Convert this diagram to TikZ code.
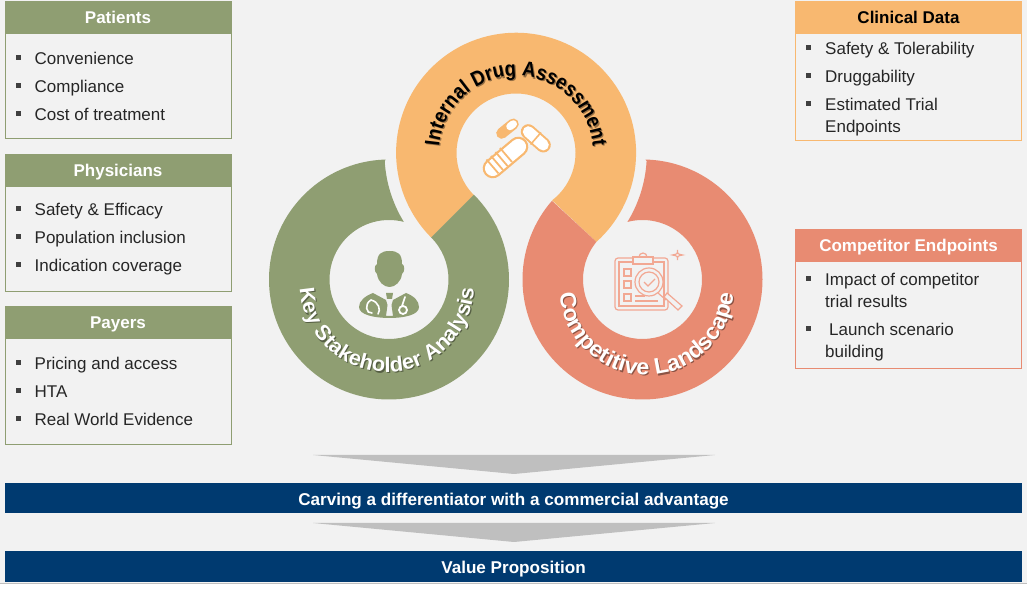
\documentclass[tikz,border=0pt]{standalone}
\usepackage{fontspec}
\setmainfont{Liberation Sans}
\newfontfamily\topringface[FakeStretch=0.88]{Liberation Sans}
\newfontfamily\lowringface[FakeStretch=1.04]{Liberation Sans}
\usetikzlibrary{calc,decorations.text}

\definecolor{pagegray}{HTML}{F2F2F2}
\definecolor{sagegreen}{HTML}{8F9E72}
\definecolor{sandorange}{HTML}{F8B870}
\definecolor{salmonred}{HTML}{E88B72}
\definecolor{salmonline}{HTML}{F2A893}
\definecolor{navybar}{HTML}{003A70}
\definecolor{arrowgray}{HTML}{BFBFBF}
\definecolor{bodytext}{HTML}{262626}

\tikzset{
    headbox/.style={minimum width=226, minimum height=32, inner sep=0, draw=#1, fill=#1,
        text height=15.5, text depth=3, font=\fontsize{17}{20}\selectfont\bfseries},
    bodybox/.style={minimum width=226, inner sep=0, draw=#1, line width=0.8pt},
    itemtext/.style={anchor=west, inner sep=0, text height=15.5, text depth=3, text=bodytext,
        font=\fontsize{17}{20}\selectfont},
    itemmark/.style={fill=black!75, minimum size=5, inner sep=0},
    navystrip/.style={minimum width=1017, minimum height=30, inner sep=0, fill=navybar, text=white,
        text height=17.5, text depth=3, font=\fontsize{17.1}{20}\selectfont\bfseries},
    downtri/.style={fill=arrowgray},
}
\newcommand{\topfont}{\fontsize{21}{24}\topringface\bfseries}
\newcommand{\keyfont}{\fontsize{21}{26}\lowringface\bfseries}
\newcommand{\rivalfont}{\fontsize{22.5}{26}\lowringface\bfseries}

\begin{document}
\begin{tikzpicture}[x=1pt,y=1pt]
        \useasboundingbox (0, 0) rectangle (1027, 591);
        \fill[pagegray] (0, 8) rectangle (1027, 591);
        \draw[line width=0.8pt,black!25] (0, 8) -- (1027, 8);

        \coordinate (topc) at (516, 438);
        \coordinate (leftc) at (389, 311.5);
        \coordinate (rightc) at (642.5, 311.5);
        \coordinate (keytext) at (387, 306);
        \coordinate (rivaltext) at (646.5, 303);

        % three rings
        \fill[sandorange] (topc) ++(225:59.5) arc[start angle=225, end angle=-52.6, radius=59.5]
            -- ($(rightc)+(140.8:59.5)$) arc[start angle=-48, end angle=225, radius=120] -- cycle;
        \fill[sagegreen] (leftc) ++(91.6:120) arc[start angle=91.6, end angle=405, radius=120]
            -- ($(leftc)+(45:59.5)$) arc[start angle=45, end angle=-284.4, radius=59.5]
            arc[start angle=211.5, end angle=183.4, radius=131] -- cycle;
        \fill[salmonred] (rightc) ++(88.6:120) arc[start angle=88.6, end angle=-221, radius=120]
            -- ($(rightc)+(140.8:59.5)$) arc[start angle=140.8, end angle=464.7, radius=59.5]
            arc[start angle=-31.6, end angle=-3.4, radius=131] -- cycle;

        % ring labels
        \path[decorate, decoration={text along path, text align=center,
            text={|\topfont\color{sandorange!60!black}|Internal Drug Assessment}}]
            ($(topc)+(1.2,-1.2)$) ++(178:77) arc[start angle=178, end angle=2, radius=77];
        \path[decorate, decoration={text along path, text align=center,
            text={|\topfont\color{black}|Internal Drug Assessment}}]
            (topc) ++(178:77) arc[start angle=178, end angle=2, radius=77];
        \path[decorate, decoration={text along path, text align=center,
            text={|\keyfont\color{sagegreen!60!black}|Key Stakeholder Analysis}}]
            ($(keytext)+(1.2,-1.2)$) ++(180:87) arc[start angle=180, end angle=360, radius=87];
        \path[decorate, decoration={text along path, text align=center,
            text={|\keyfont\color{white}|Key Stakeholder Analysis}}]
            (keytext) ++(180:87) arc[start angle=180, end angle=360, radius=87];
        \path[decorate, decoration={text along path, text align=center,
            text={|\rivalfont\color{salmonred!60!black}|Competitive Landscape}}]
            ($(rivaltext)+(1.2,-1.2)$) ++(180:87) arc[start angle=180, end angle=360, radius=87];
        \path[decorate, decoration={text along path, text align=center,
            text={|\rivalfont\color{white}|Competitive Landscape}}]
            (rivaltext) ++(180:87) arc[start angle=180, end angle=360, radius=87];

        % pills
        \draw[line width=20pt,line cap=round,sandorange] (492.7, 422.7)--(518.3, 444.3);
        \draw[line width=15.5pt,line cap=round,white] (492.7, 422.7)--(518.3, 444.3);
        \draw[line width=1.8pt,sandorange] (486.5, 431.5)--(498.5, 417.5);
        \draw[line width=1.8pt,sandorange] (491, 435)--(503, 421);
        \draw[line width=1.8pt,sandorange] (495.5, 439)--(507.5, 425);
        \draw[line width=1.8pt,sandorange] (500, 443)--(512, 429);
        \draw[line width=15pt,line cap=round,sandorange] (528.3, 459.3)--(543.3, 446);
        \draw[line width=11pt,line cap=round,white] (528.3, 459.3)--(543.3, 446);
        \draw[line width=1.6pt,sandorange] (530.5, 446.5)--(541, 458.5);
        \draw[line width=11pt,line cap=round,sandorange] (501.7, 457.7)--(507.5, 462.4);
        \draw[line width=11pt,line cap=round,sandorange] (507.5, 462.4)--(513.3, 467);
        \draw[line width=7.5pt,line cap=round,white] (510, 464.5)--(513.3, 467);

        % doctor
        \fill[sagegreen] (389.5, 340) .. controls (381, 340) and (377, 337) .. (377, 327)
            .. controls (374, 326) and (374, 319) .. (377, 317)
            .. controls (378, 309) and (384, 304) .. (389.5, 304)
            .. controls (395, 304) and (401, 309) .. (402, 317)
            .. controls (405, 319) and (405, 326) .. (402, 327)
            .. controls (402, 337) and (398, 340) .. (389.5, 340) -- cycle;
        \fill[sagegreen] (373, 298) -- (386, 291) -- (387.5, 286) -- (386, 275) -- (393, 275)
            -- (391.5, 286) -- (393, 291) -- (406, 298)
            .. controls (414, 295) and (419, 290) .. (419, 284)
            .. controls (419, 276) and (404, 273) .. (389.5, 273)
            .. controls (375, 273) and (359, 276) .. (359, 284)
            .. controls (359, 290) and (365, 295) .. (373, 298) -- cycle;
        \fill[sagegreen] (386, 298) -- (393, 298) -- (392, 292) -- (387, 292) -- cycle;
        \draw[line width=1.6pt,white,line cap=round] (371, 291) .. controls (364, 287) and (366, 277) .. (372, 278);
        \draw[line width=1.6pt,white,line cap=round] (371, 291) .. controls (379, 289) and (381, 281) .. (378, 277);
        \draw[line width=1.6pt,white,line cap=round] (405, 294) -- (402, 285);
        \draw[line width=1.8pt,white] (403, 281) circle (4);

        % clipboard
        \begin{scope}[salmonline, line width=1.2pt]
            \draw[rounded corners=3pt] (615, 333) rectangle (668, 281);
            \draw (619, 329) rectangle (664, 285);
            \draw[fill=pagegray] (633, 334) rectangle (653, 327);
            \draw (639, 334) arc[start angle=180, end angle=0, radius=4];
            \draw (624, 322) rectangle (631, 315);
            \draw (624, 310) rectangle (631, 303);
            \draw (624, 297) rectangle (631, 290);
            \draw (635, 295)--(645, 295);
            \draw (635, 290)--(658, 290);
            \draw (658, 298)--(666, 291);
            \draw[fill=pagegray] (664, 294)--(667, 298)--(682, 285)--(678, 281)--cycle;
            \draw[fill=pagegray] (649, 309) circle (14);
            \draw (649, 309) circle (10);
            \draw (644, 309)--(648, 305)--(655, 312);
            \draw (677.5, 341) .. controls (677.5, 337) .. (682.5, 336) .. controls (677.5, 335) .. (677.5, 331)
                .. controls (677.5, 335) .. (672.5, 336) .. controls (677.5, 337) .. (677.5, 341) -- cycle;
        \end{scope}

        % left boxes
        \node[bodybox=sagegreen, minimum height=105] (patientsbody) at (118, 505.5) {};
        \node[headbox=sagegreen, text=white] (patients) at (118, 574) {Patients};
        \node[itemmark] (patientsmarka) at (18, 533) {};
        \node[itemtext] (patientsa) at (34.5, 533) {Convenience};
        \node[itemmark] (patientsmarkb) at (18, 505) {};
        \node[itemtext] (patientsb) at (34.5, 505) {Compliance};
        \node[itemmark] (patientsmarkc) at (18, 477) {};
        \node[itemtext] (patientsc) at (34.5, 477) {Cost of treatment};

        \node[bodybox=sagegreen, minimum height=105] (physiciansbody) at (118, 352.5) {};
        \node[headbox=sagegreen, text=white] (physicians) at (118, 421) {Physicians};
        \node[itemmark] (physiciansmarka) at (18, 382) {};
        \node[itemtext] (physiciansa) at (34.5, 382) {Safety \& Efficacy};
        \node[itemmark] (physiciansmarkb) at (18, 354) {};
        \node[itemtext] (physiciansb) at (34.5, 354) {Population inclusion};
        \node[itemmark] (physiciansmarkc) at (18, 326) {};
        \node[itemtext] (physiciansc) at (34.5, 326) {Indication coverage};

        \node[bodybox=sagegreen, minimum height=107] (payersbody) at (118, 200.5) {};
        \node[headbox=sagegreen, text=white] (payers) at (118, 268.5) {Payers};
        \node[itemmark] (payersmarka) at (18, 228) {};
        \node[itemtext] (payersa) at (34.5, 228) {Pricing and access};
        \node[itemmark] (payersmarkb) at (18, 200) {};
        \node[itemtext] (payersb) at (34.5, 200) {HTA};
        \node[itemmark] (payersmarkc) at (18, 172) {};
        \node[itemtext] (payersc) at (34.5, 172) {Real World Evidence};

        % right boxes
        \node[bodybox=sandorange, minimum height=107] (clinicalbody) at (908.5, 504.5) {};
        \node[headbox=sandorange, text=black] (clinical) at (908.5, 574) {Clinical Data};
        \node[itemmark] (clinicalmarka) at (808, 543) {};
        \node[itemtext] (clinicala) at (825, 543) {Safety \& Tolerability};
        \node[itemmark] (clinicalmarkb) at (808, 515) {};
        \node[itemtext] (clinicalb) at (825, 515) {Druggability};
        \node[itemmark] (clinicalmarkc) at (808, 487) {};
        \node[itemtext] (clinicalc) at (825, 487) {Estimated Trial};
        \node[itemtext] (clinicald) at (825, 465) {Endpoints};

        \node[bodybox=salmonred, minimum height=107] (rivalbody) at (908.5, 276.5) {};
        \node[headbox=salmonred, text=white] (rival) at (908.5, 346) {Competitor Endpoints};
        \node[itemmark] (rivalmarka) at (808, 312) {};
        \node[itemtext] (rivala) at (825, 312) {Impact of competitor};
        \node[itemtext] (rivalb) at (825, 290) {trial results};
        \node[itemmark] (rivalmarkc) at (808, 262) {};
        \node[itemtext] (rivalc) at (829, 262) {Launch scenario};
        \node[itemtext] (rivald) at (825, 240) {building};

        % bottom
        \fill[downtri] (313, 136)--(715, 136)--(514, 117)--cycle;
        \node[navystrip] (carving) at (513.5, 93) {Carving a differentiator with a commercial advantage};
        \fill[downtri] (313, 68)--(715, 68)--(514, 49)--cycle;
        \node[navystrip, minimum height=31] (valueprop) at (513.5, 24.5) {Value Proposition};
    \end{tikzpicture}
\end{document}
